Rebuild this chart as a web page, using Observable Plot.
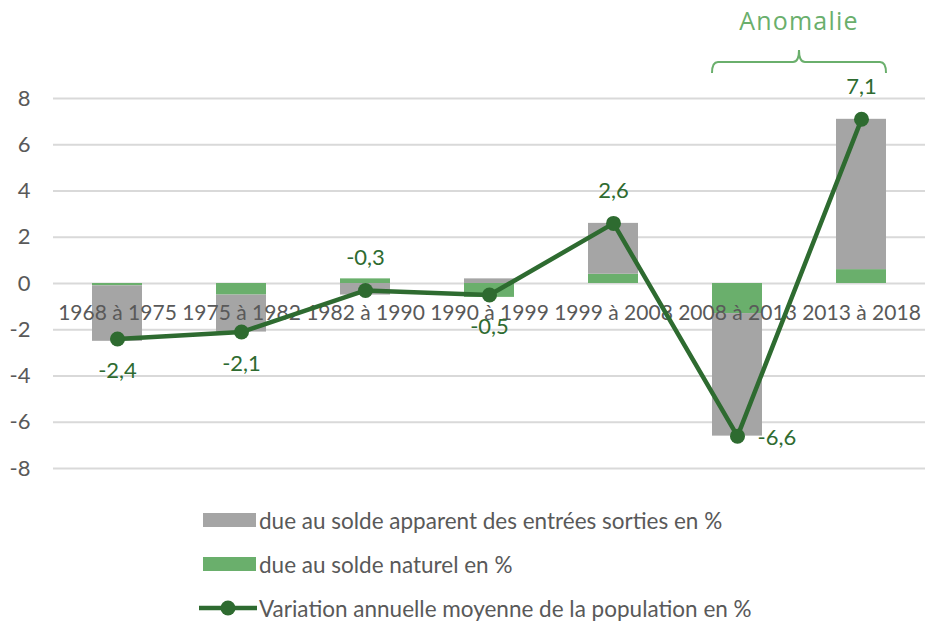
<!DOCTYPE html>
<html>
<head>
<meta charset="utf-8">
<script src="https://cdn.jsdelivr.net/npm/d3@7"></script>
<script src="https://cdn.jsdelivr.net/npm/@observablehq/plot@0.6"></script>
<style>
  html, body { margin: 0; padding: 0; background: #fff; }
  #wrap { position: relative; width: 925px; height: 624px; font-family: Lato, "Noto Sans", sans-serif; }
  .row { position: absolute; left: 199px; height: 26px; display: flex; align-items: center; font-size: 22.5px; color: #595959; white-space: nowrap; }
  .sw { display: inline-block; width: 53px; height: 14px; margin-right: 3px; margin-left: 4px; }
</style>
</head>
<body>
<div id="wrap">
  <div id="chart"></div>
  <div id="legend"></div>
</div>
<script>
// ---- Data ----
const periodes = ["1968 à 1975", "1975 à 1982", "1982 à 1990", "1990 à 1999", "1999 à 2008", "2008 à 2013", "2013 à 2018"];
const soldeNaturel = [-0.1, -0.5, 0.2, -0.6, 0.4, -1.3, 0.6];
const soldeApparent = [-2.4, -1.6, -0.5, 0.2, 2.2, -5.3, 6.5];
const variationTotale = [-2.4, -2.1, -0.3, -0.5, 2.6, -6.6, 7.1];
const labelPlacement = ["below", "below", "above", "below", "above", "right", "above"];
const yTicks = [-8, -6, -4, -2, 0, 2, 4, 6, 8];
const seriesNames = ["due au solde naturel en %", "due au solde apparent des entrées sorties en %"];
const lineName = "Variation annuelle moyenne de la population en %";
const anomalyRange = ["2008 à 2013", "2013 à 2018"];
const anomalyLabel = "Anomalie";

// ---- Styles ----
const cGray = "#A5A5A5", cGreen = "#6AAF6C", cDark = "#2E6B30", cText = "#595959", cGrid = "#D9D9D9";

const rows = [];
periodes.forEach((p, i) => {
  rows.push({periode: p, serie: seriesNames[0], value: soldeNaturel[i]});
  rows.push({periode: p, serie: seriesNames[1], value: soldeApparent[i]});
});

const fmt = v => String(v).replace(".", ",");

function anomalie(index, scales) {
  const sx = scales.x, sy = scales.y;
  const bw = typeof sx.bandwidth === "function" ? sx.bandwidth() : sx.bandwidth;
  const x0 = sx(anomalyRange[0]);
  const x1 = sx(anomalyRange[1]) + bw;
  const xm = (x0 + x1) / 2;
  const top = sy(d3.max(yTicks));
  const yb = top - 36;
  const g = d3.create("svg:g");
  const p = d3.path();
  p.moveTo(x0, yb + 11);
  p.quadraticCurveTo(x0, yb, x0 + 6, yb);
  p.lineTo(xm - 6, yb);
  p.quadraticCurveTo(xm, yb, xm, yb - 12);
  p.quadraticCurveTo(xm, yb, xm + 6, yb);
  p.lineTo(x1 - 6, yb);
  p.quadraticCurveTo(x1, yb, x1, yb + 11);
  g.append("path").attr("d", p.toString()).attr("fill", "none")
    .attr("stroke", cGreen).attr("stroke-width", 2);
  g.append("text").attr("x", xm).attr("y", top - 75)
    .attr("text-anchor", "middle").attr("dominant-baseline", "middle")
    .attr("fill", cGreen).style("font-family", "'Open Sans', sans-serif")
    .style("font-weight", 400).style("font-size", "25px").style("letter-spacing", "1.2px")
    .text(anomalyLabel);
  return g.node();
}

const chart = Plot.plot({
  width: 925,
  height: 495,
  marginTop: 98,
  marginBottom: 27,
  marginLeft: 53,
  marginRight: 0,
  style: {fontFamily: "Lato, 'Noto Sans', sans-serif", fontSize: "22px", color: cText, background: "white", overflow: "visible"},
  x: {domain: periodes, paddingInner: 0.6, paddingOuter: 0.3, axis: null},
  y: {domain: [-8, 8], ticks: yTicks, tickSize: 0, tickPadding: 23, tickFormat: d => String(d), label: null},
  color: {domain: seriesNames, range: [cGreen, cGray]},
  marks: [
    Plot.ruleY(yTicks, {stroke: cGrid, strokeWidth: 1.8}),
    Plot.barY(rows, {x: "periode", y: "value", fill: "serie"}),
    Plot.text(periodes, {x: d => d, y: 0, dy: 30, fill: cText, fontSize: 21}),
    Plot.line(variationTotale, {x: periodes, y: variationTotale, stroke: cDark, strokeWidth: 4.5}),
    Plot.dot(variationTotale, {x: periodes, y: variationTotale, r: 7.5, fill: cDark, stroke: "none"}),
    Plot.text(variationTotale, {filter: (d, i) => labelPlacement[i] === "above", x: periodes, y: variationTotale, text: fmt, dy: -32, fill: cDark}),
    Plot.text(variationTotale, {filter: (d, i) => labelPlacement[i] === "below", x: periodes, y: variationTotale, text: fmt, dy: 32, fill: cDark}),
    Plot.text(variationTotale, {filter: (d, i) => labelPlacement[i] === "right", x: periodes, y: variationTotale, text: fmt, dx: 20, dy: 2, textAnchor: "start", fill: cDark}),
    anomalie
  ]
});
document.getElementById("chart").appendChild(chart);

// ---- Legend ----
const legend = d3.select("#legend");
const legendItems = [
  {name: seriesNames[1], kind: "bar", color: cGray},
  {name: seriesNames[0], kind: "bar", color: cGreen},
  {name: lineName, kind: "line", color: cDark}
];
legendItems.forEach((it, i) => {
  const row = legend.append("div").attr("class", "row").style("top", (507 + i * 44) + "px");
  if (it.kind === "bar") {
    row.append("span").attr("class", "sw").style("background", it.color);
  } else {
    const s = row.append("svg").attr("width", 59).attr("height", 20).style("margin-right", "1px");
    s.append("line").attr("x1", 0).attr("x2", 58).attr("y1", 10).attr("y2", 10).attr("stroke", it.color).attr("stroke-width", 4.5);
    s.append("circle").attr("cx", 29).attr("cy", 10).attr("r", 7.5).attr("fill", it.color);
  }
  row.append("span").text(it.name);
});
</script>
</body>
</html>
